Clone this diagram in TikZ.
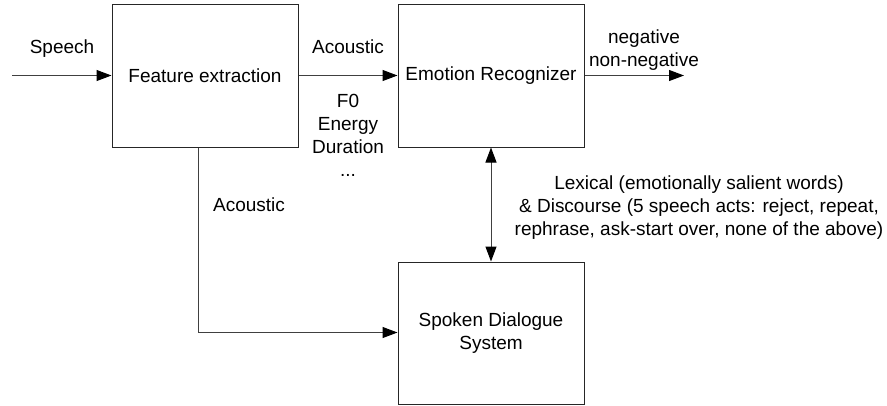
\documentclass[tikz,border=0pt]{standalone}
\usepackage{fontspec}
\setmainfont{Liberation Sans}
\usetikzlibrary{arrows.meta}
\begin{document}
\begin{tikzpicture}[x=1pt,y=-1pt,
  blockbox/.style={draw=black!85,line width=1pt,minimum width=186pt,inner sep=0pt,align=center},
  link/.style={draw=black!75,line width=1pt,-{Triangle[length=15pt,width=11pt,color=black]}},
  twoway/.style={draw=black!75,line width=1pt,{Triangle[length=15pt,width=11pt,color=black]}-{Triangle[length=15pt,width=11pt,color=black]}},
  lbl/.style={inner sep=0pt,align=center},
  every node/.style={font=\fontsize{19}{23}\selectfont}]
\useasboundingbox (0,0) rectangle (887,405);
% processing blocks
\node[blockbox,minimum height=143pt] (fe) at (205,75.5) {Feature extraction};
\node[blockbox,minimum height=143pt] (er) at (491,75.5) {Emotion Recognizer};
\node[blockbox,minimum height=142pt] (sds) at (491,333) {Spoken Dialogue\\System};
% free ends of the input and output lines
\coordinate (in) at (12,75.5);
\coordinate (out) at (684,75.5);
\coordinate (bend) at (198,332.5);
% connectors
\draw[link] (in) -- (fe.west);
\draw[link] (fe.east) -- (er.west);
\draw[link] (er.east) -- (out);
\draw[link] (fe.south -| bend) -- (bend) -- (bend -| sds.west);
\draw[twoway] (er.south) -- (sds.north);
% labels
\node[lbl] (speech) at (62,49) {Speech};
\node[lbl] (acu1) at (348,47) {Acoustic};
\node[lbl] (feats) at (348,135) {F0\\Energy\\Duration\\...};
\node[lbl] (res) at (644,50) {negative\\non-negative};
\node[lbl] (acu2) at (249,205) {Acoustic};
\node[lbl] (lex) at (699,208) {Lexical (emotionally salient words)\\\& Discourse (5 speech acts: reject, repeat,\\rephrase, ask-start over, none of the above)};
\end{tikzpicture}
\end{document}
